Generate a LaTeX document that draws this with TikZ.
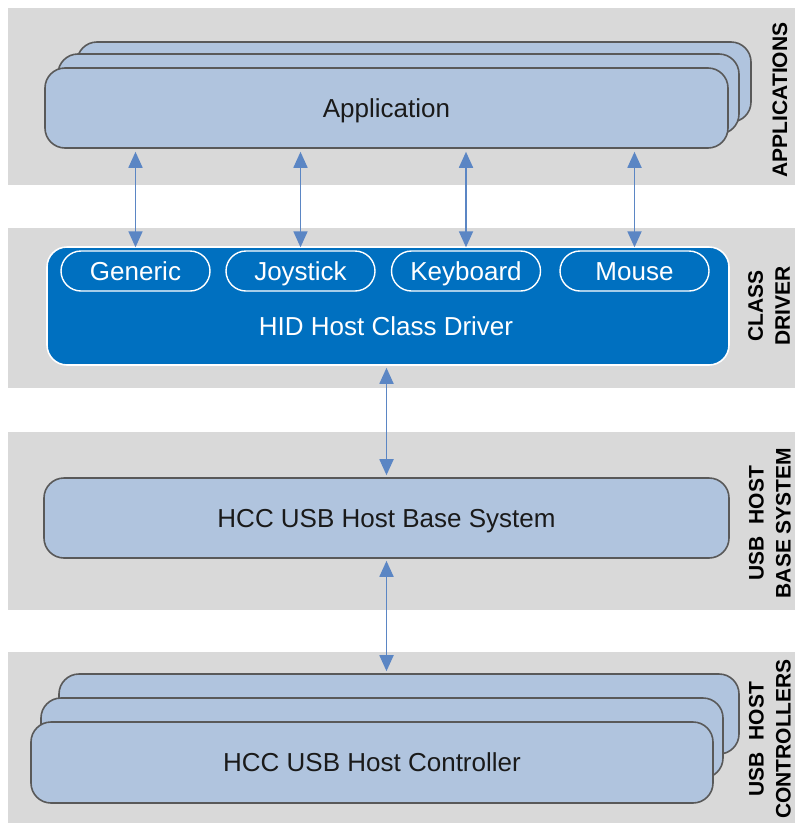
\documentclass[tikz,border=0pt]{standalone}
\usepackage{fontspec}
\setmainfont{Liberation Sans}
\usetikzlibrary{arrows.meta}
\definecolor{bandgray}{HTML}{D9D9D9}
\definecolor{boxblue}{HTML}{B0C4DE}
\definecolor{edgegray}{HTML}{595959}
\definecolor{drvblue}{HTML}{0070C0}
\definecolor{arrblue}{HTML}{5B86C4}
\definecolor{txtdark}{HTML}{1A1A1A}
\begin{document}
\begin{tikzpicture}[x=1pt,y=-1pt,
  band/.style={fill=bandgray,draw=none},
  bigtext/.style={font=\fontsize{26}{30}\selectfont,text height=18.6pt,text depth=0pt},
  lbox/.style={draw=edgegray,line width=1.6pt,fill=boxblue,rounded corners=20pt,inner sep=0pt,text=txtdark,bigtext},
  drvbox/.style={draw=white,line width=1.6pt,fill=drvblue,rounded corners=20pt,inner sep=0pt},
  pill/.style={draw=white,line width=1.4pt,rounded corners=20pt,inner sep=0pt,minimum width=149pt,minimum height=40pt,text=white,bigtext},
  layerlabel/.style={rotate=90,align=center,inner sep=0pt,font=\fontsize{21}{27}\selectfont\bfseries},
  biarrow/.style={draw=arrblue,line width=1.8pt,{Triangle[width=14pt,length=16pt]}-{Triangle[width=14pt,length=16pt]}}
]
\useasboundingbox (0,0) rectangle (795,825);
\fill[white] (0,0) rectangle (795,825);
% bands
\fill[band] (8,8) rectangle (800,185);
\fill[band] (8,228) rectangle (800,388);
\fill[band] (8,432) rectangle (800,610);
\fill[band] (8,652) rectangle (800,823);

% application stack
\node[lbox,minimum width=674pt,minimum height=80pt] (appback) at (414,82) {};
\node[lbox,minimum width=681pt,minimum height=80pt] (appmid) at (398.5,94) {};
\node[lbox,minimum width=683pt,minimum height=80pt] (app) at (386.5,108) {Application};

% class driver
\node[drvbox,minimum width=682pt,minimum height=118pt] (drv) at (388,306) {};
\node[text=white,bigtext,inner sep=0pt] (drvlabel) at (386,326) {HID Host Class Driver};
\node[pill] (gen) at (135.5,271) {Generic};
\node[pill] (joy) at (300.5,271) {Joystick};
\node[pill] (key) at (466,271) {Keyboard};
\node[pill] (mou) at (634.5,271) {Mouse};

% base system
\node[lbox,minimum width=685pt,minimum height=80pt] (base) at (386.5,518) {HCC USB Host Base System};

% controller stack
\node[lbox,minimum width=680pt,minimum height=80pt] (ctlback) at (399,714) {};
\node[lbox,minimum width=682pt,minimum height=80pt] (ctlmid) at (382,738) {};
\node[lbox,minimum width=682pt,minimum height=81pt] (ctl) at (372,762.5) {HCC USB Host Controller};

% arrows
\draw[biarrow,shorten <=3pt,shorten >=3pt] (app.south -| gen.north) -- (gen.north);
\draw[biarrow,shorten <=3pt,shorten >=3pt] (app.south -| joy.north) -- (joy.north);
\draw[biarrow,shorten <=3pt,shorten >=3pt] (app.south -| key.north) -- (key.north);
\draw[biarrow,shorten <=3pt,shorten >=3pt] (app.south -| mou.north) -- (mou.north);
\draw[biarrow,shorten <=2pt,shorten >=2pt] (base.north |- drv.south) -- (base.north);
\draw[biarrow,shorten <=2pt,shorten >=2pt] (base.south) -- (base.south |- ctlback.north);

% layer labels
\node[layerlabel] (lapp) at (780,100) {APPLICATIONS};
\node[layerlabel] (ldrv) at (769,306) {CLASS\\DRIVER};
\node[layerlabel] (lbase) at (770,523) {USB\ \ HOST\\BASE SYSTEM};
\node[layerlabel] (lctl) at (770,739) {USB\ \ HOST\\CONTROLLERS};
\end{tikzpicture}
\end{document}
